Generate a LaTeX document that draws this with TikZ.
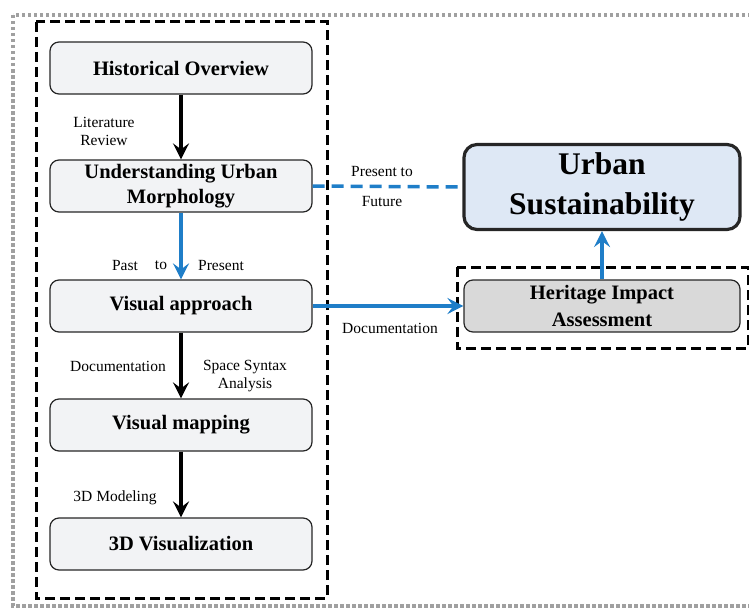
\documentclass[tikz,border=0pt]{standalone}
\usepackage{fontspec}
\setmainfont{Liberation Serif}
\usetikzlibrary{positioning,arrows.meta}
\definecolor{flowblue}{RGB}{31,126,200}
\definecolor{boxgrey}{RGB}{242,243,245}
\definecolor{sustblue}{RGB}{222,232,245}
\definecolor{hiagrey}{RGB}{217,217,217}
\definecolor{framegrey}{RGB}{160,160,160}

\tikzset{
  stepbox/.style={draw=black!85, line width=1.2pt, rounded corners=9pt, fill=boxgrey,
    minimum width=262pt, minimum height=52pt, align=center,
    font=\fontsize{20.5}{25}\selectfont\bfseries},
  steplabel/.style={inner sep=0pt, align=center, font=\fontsize{15.5}{18}\selectfont},
  blackarrow/.style={-{Stealth[length=16pt,width=16pt,inset=6pt]}, line width=3.2pt},
  bluearrow/.style={blackarrow, draw=flowblue, fill=flowblue, line width=3.2pt},
  groupbox/.style={line width=3pt, dash pattern=on 10pt off 5pt},
}

\begin{document}
\begin{tikzpicture}[x=1pt,y=-1pt]
% Basic parameters
\def\colx{181}
\def\rightx{602}

\useasboundingbox (0,0) rectangle (749,610);

% Outer dotted frame and group boxes
\draw[framegrey, line width=3.5pt, dash pattern=on 3.5pt off 2.5pt] (13,15) rectangle (760,606);
\draw[groupbox] (36,22) rectangle (327,598);
\draw[groupbox] (457,267) rectangle (748,348);

% Left column
\node[stepbox] (hist)   at (\colx, 68)  {Historical Overview};
\node[stepbox] (morph)  at (\colx, 186) {Understanding Urban\\Morphology};
\node[stepbox] (visual) at (\colx, 306) {Visual approach};
\node[stepbox] (vmap)   at (\colx, 425) {Visual mapping};
\node[stepbox] (viz)    at (\colx, 544) {3D Visualization};

% Right column
\node[stepbox, minimum width=276pt, minimum height=85pt, line width=3.2pt, rounded corners=13pt,
      fill=sustblue, font=\fontsize{31.5}{40}\selectfont\bfseries] (sust) at (\rightx, 187) {Urban\\Sustainability};
\node[stepbox, minimum width=276pt, fill=hiagrey, font=\fontsize{20.5}{27}\selectfont\bfseries] (hia) at (\rightx, 306) {Heritage Impact\\Assessment};

% Connectors
\draw[blackarrow] (hist) -- (morph);
\draw[bluearrow] (morph) -- (visual);
\draw[blackarrow] (visual) -- (vmap);
\draw[blackarrow] (vmap) -- (viz);
\draw[flowblue, line width=3.5pt, dash pattern=on 12pt off 7pt] (morph.east) -- (sust.west);
\draw[bluearrow] (visual.east) -- (hia.west);
\draw[bluearrow] (hia) -- (sust);

% Labels
\node[steplabel] (litrev) at (104,131) {Literature\\Review};
\node[steplabel] (past)   at (125,265) {Past};
\node[steplabel] (to)     at (161,265) {to};
\node[steplabel] (pres)   at (221,265) {Present};
\node[steplabel] (docl)   at (118,366) {Documentation};
\node[steplabel] (ssa)    at (245,376) {Space Syntax\\Analysis};
\node[steplabel] (model)  at (115,498) {3D Modeling};
\node[steplabel, font=\fontsize{15.5}{30}\selectfont] (future) at (382,186) {Present to\\Future};
\node[steplabel] (docr)   at (390,328) {Documentation};
\end{tikzpicture}
\end{document}
